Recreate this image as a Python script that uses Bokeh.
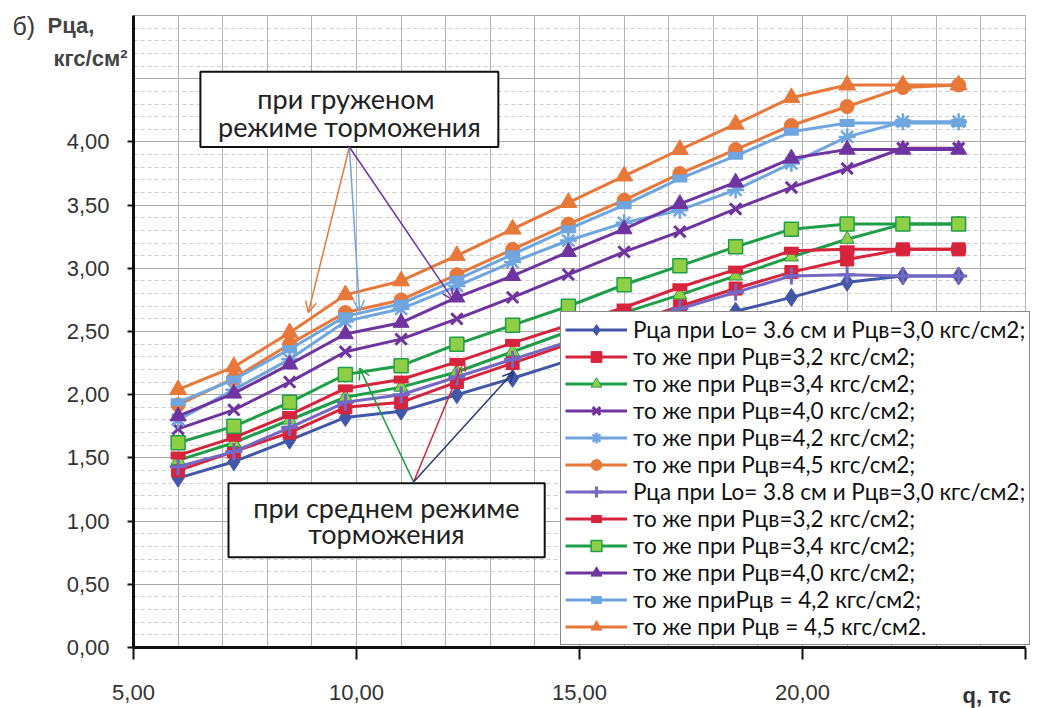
from bokeh.plotting import figure
from bokeh.models import (Range1d, FixedTicker, CustomJSTickFormatter, Grid, Legend, LegendItem,
                          BoxAnnotation, Label, Arrow, OpenHead)
from bokeh.core.properties import value
from bokeh.embed import file_html
from bokeh.resources import INLINE

# ---- data ----
q = [6.0, 7.25, 8.5, 9.75, 11.0, 12.25, 13.5, 14.75, 16.0, 17.25, 18.5, 19.75, 21.0, 22.25, 23.5]

lo36_30 = [1.34, 1.47, 1.64, 1.82, 1.87, 2.00, 2.13, 2.27, 2.40, 2.53, 2.66, 2.77, 2.89, 2.94, 2.94]
lo36_32 = [1.40, 1.55, 1.70, 1.90, 1.94, 2.10, 2.25, 2.40, 2.55, 2.70, 2.84, 2.97, 3.07, 3.15, 3.15]
lo36_34 = [1.48, 1.62, 1.80, 1.98, 2.06, 2.18, 2.34, 2.50, 2.65, 2.79, 2.94, 3.09, 3.23, 3.35, 3.35]
lo36_40 = [1.73, 1.88, 2.10, 2.34, 2.44, 2.60, 2.77, 2.95, 3.13, 3.29, 3.47, 3.64, 3.79, 3.95, 3.95]
lo36_42 = [1.80, 2.04, 2.28, 2.58, 2.68, 2.86, 3.05, 3.22, 3.36, 3.46, 3.62, 3.83, 4.04, 4.16, 4.16]
lo36_45 = [1.92, 2.13, 2.40, 2.65, 2.75, 2.95, 3.15, 3.35, 3.54, 3.75, 3.94, 4.13, 4.28, 4.43, 4.45]
lo38_30 = [1.43, 1.55, 1.74, 1.94, 2.00, 2.14, 2.28, 2.42, 2.55, 2.68, 2.81, 2.94, 2.95, 2.94, 2.94]
lo38_32 = [1.52, 1.66, 1.84, 2.05, 2.12, 2.26, 2.41, 2.55, 2.69, 2.85, 2.99, 3.14, 3.15, 3.15, 3.15]
lo38_34 = [1.62, 1.75, 1.94, 2.16, 2.23, 2.40, 2.55, 2.70, 2.87, 3.02, 3.17, 3.31, 3.35, 3.35, 3.35]
lo38_40 = [1.83, 2.01, 2.24, 2.48, 2.57, 2.77, 2.94, 3.13, 3.31, 3.51, 3.68, 3.87, 3.94, 3.94, 3.94]
lo38_42 = [1.94, 2.12, 2.36, 2.62, 2.72, 2.91, 3.11, 3.31, 3.50, 3.71, 3.89, 4.08, 4.15, 4.15, 4.15]
lo38_45 = [2.04, 2.22, 2.49, 2.79, 2.90, 3.10, 3.31, 3.52, 3.73, 3.94, 4.14, 4.35, 4.45, 4.45, 4.45]

labels = [
    "Рца при Lo= 3.6 см и Рцв=3,0 кгс/см2;",
    "то же при Рцв=3,2 кгс/см2;",
    "то же при Рцв=3,4 кгс/см2;",
    "то же при Рцв=4,0 кгс/см2;",
    "то же при Рцв=4,2 кгс/см2;",
    "то же при Рцв=4,5 кгс/см2;",
    "Рца при Lo= 3.8 см и Рцв=3,0 кгс/см2;",
    "то же при Рцв=3,2 кгс/см2;",
    "то же при Рцв=3,4 кгс/см2;",
    "то же при Рцв=4,0 кгс/см2;",
    "то же приРцв = 4,2 кгс/см2;",
    "то же при Рцв = 4,5 кгс/см2.",
]

y_ticks = [0.0, 0.5, 1.0, 1.5, 2.0, 2.5, 3.0, 3.5, 4.0]
x_ticks = [5, 10, 15, 20, 25]

# ---- styles ----
BLUE = "#4357a8"
RED = "#d8233c"
GREEN = "#1f9e48"
LIME = "#8fcf46"
PURPLE = "#7034a0"
LBLUE = "#6fa6e0"
ORANGE = "#e8773a"
LAV = "#7468c4"

series = [
    (lo36_30, BLUE, "diamond", BLUE, 18, 1),
    (lo36_32, RED, "square", RED, 13, 1),
    (lo36_34, GREEN, "triangle", LIME, 14, 1),
    (lo36_40, PURPLE, "x", PURPLE, 16, 3),
    (lo36_42, LBLUE, "asterisk", LBLUE, 17, 2.5),
    (lo36_45, ORANGE, "circle", ORANGE, 14, 1),
    (lo38_30, LAV, "cross", LAV, 17, 3),
    (lo38_32, RED, "dash", RED, 15, 8),
    (lo38_34, GREEN, "square", LIME, 14, 1.5),
    (lo38_40, PURPLE, "triangle", PURPLE, 16, 1),
    (lo38_42, LBLUE, "dash", LBLUE, 15, 8),
    (lo38_45, ORANGE, "triangle", ORANGE, 17, 1),
]

# The frame covers the whole canvas; axes sit at fixed data locations inside it,
# so that the axis titles and legend are not clipped.
# (q = 5 at x = 133 px, q = 25 at x = 1025 px; P = 0 at y = 647 px, P = 5 at y = 15 px)
p = figure(width=1057, height=708, output_backend="svg", toolbar_location=None,
           x_range=Range1d(2.018, 25.717), y_range=Range1d(-0.4826, 5.119),
           min_border=0, min_border_left=0, min_border_right=0,
           min_border_top=0, min_border_bottom=0)
p.outline_line_color = None
p.background_fill_color = "white"
p.border_fill_color = "white"
p.xgrid.visible = False
p.ygrid.visible = False

# grids (limited to the plotting area)
minor_y = [round(0.1 * i, 1) for i in range(1, 51)]
major_y = [0.5 * i for i in range(1, 11)]
grid_x = list(range(6, 26))
if "cross_bounds" in Grid.properties():
    p.add_layout(Grid(dimension=1, ticker=FixedTicker(ticks=minor_y), cross_bounds=(5, 25),
                      grid_line_color="#cfcfcf", grid_line_dash="4 3", grid_line_width=1))
    p.add_layout(Grid(dimension=1, ticker=FixedTicker(ticks=major_y), cross_bounds=(5, 25),
                      grid_line_color="#a9a9a9", grid_line_width=1))
    p.add_layout(Grid(dimension=0, ticker=FixedTicker(ticks=grid_x), cross_bounds=(0, 5),
                      grid_line_color="#b3b3b3", grid_line_width=1))
else:
    p.segment(x0=[5] * len(minor_y), y0=minor_y, x1=[25] * len(minor_y), y1=minor_y,
              line_color="#cfcfcf", line_dash="4 3", line_width=1, level="underlay")
    p.segment(x0=[5] * len(major_y), y0=major_y, x1=[25] * len(major_y), y1=major_y,
              line_color="#a9a9a9", line_width=1, level="underlay")
    p.segment(x0=grid_x, y0=[0] * len(grid_x), x1=grid_x, y1=[5] * len(grid_x),
              line_color="#b3b3b3", line_width=1, level="underlay")

# main axes, fixed inside the frame
p.xaxis.fixed_location = 0
p.yaxis.fixed_location = 5
p.xaxis.bounds = (5, 25)
p.yaxis.bounds = (0, 5)
p.yaxis.ticker = FixedTicker(ticks=y_ticks)
p.xaxis.ticker = FixedTicker(ticks=x_ticks)
p.yaxis.formatter = CustomJSTickFormatter(code="return tick.toFixed(2).replace('.', ',');")
p.xaxis.formatter = CustomJSTickFormatter(
    code="return tick >= 25 ? '' : tick.toFixed(2).replace('.', ',');")
for ax in (p.xaxis, p.yaxis):
    ax.axis_line_width = 3
    ax.axis_line_color = "#111111"
    ax.major_tick_line_color = "#111111"
    ax.major_tick_line_width = 2
    ax.minor_tick_line_color = None
    ax.major_tick_in = 0
    ax.major_label_text_font = "Liberation Sans"
    ax.major_label_text_font_size = "22px"
    ax.major_label_text_color = "#333333"
p.yaxis.major_tick_out = 6
p.yaxis.major_label_standoff = 18
p.xaxis.major_tick_out = 12
p.xaxis.major_label_standoff = 25

items = []
for (vals, color, marker, fill, size, mlw), lab in zip(series, labels):
    r_line = p.line(q, vals, line_color=color, line_width=3)
    r_mark = p.scatter(q, vals, marker=marker, size=size, fill_color=fill,
                       line_color=color, line_width=mlw)
    items.append(LegendItem(label=value(lab), renderers=[r_line, r_mark]))

# annotation boxes
p.add_layout(BoxAnnotation(left=6.5, right=13.18, bottom=3.96, top=4.556,
                           fill_color="white", fill_alpha=1.0, line_color="#111111",
                           line_alpha=1.0, line_width=2))
p.add_layout(BoxAnnotation(left=7.13, right=14.22, bottom=0.714, top=1.30,
                           fill_color="white", fill_alpha=1.0, line_color="#111111",
                           line_alpha=1.0, line_width=2))
box_font = dict(text_font="Lato", text_font_size="27px", text_color="#222222",
                text_align="center", text_baseline="middle")
p.add_layout(Label(x=9.84, y=4.34, text="при  груженом", **box_font))
p.add_layout(Label(x=9.84, y=4.12, text="режиме торможения", **box_font))
p.add_layout(Label(x=10.67, y=1.11, text="при среднем режиме", **box_font))
p.add_layout(Label(x=10.67, y=0.905, text="торможения", **box_font))

# arrows
arrows = [
    (9.84, 3.96, 8.92, 2.65, ORANGE),
    (9.84, 3.96, 10.07, 2.66, LBLUE),
    (9.84, 3.96, 12.17, 2.75, PURPLE),
    (11.28, 1.31, 10.07, 2.21, GREEN),
    (11.28, 1.31, 12.42, 2.28, RED),
    (11.28, 1.31, 13.52, 2.18, "#283a78"),
]
for xs, ys, xe, ye, c in arrows:
    p.add_layout(Arrow(x_start=xs, y_start=ys, x_end=xe, y_end=ye, line_color=c, line_width=1.5,
                       end=OpenHead(size=11, line_color=c, line_width=1.5)))

# legend (bottom-left corner at canvas x=560, y=645)
legend = Legend(items=items, location=(560, 63), label_text_font="Lato",
                label_text_font_size="22.5px", label_text_color="#111111",
                glyph_width=62, glyph_height=27, label_height=27, label_standoff=6,
                spacing=0, padding=4, margin=0, border_line_color="#111111",
                border_line_width=1.5, background_fill_color="white", background_fill_alpha=1.0)
p.add_layout(legend)

# axis titles
p.add_layout(Label(x=2.287, y=4.92, text="б)",
                   text_font="Liberation Sans", text_font_size="25px",
                   text_color="#3a3a3a", text_baseline="middle"))
p.add_layout(Label(x=3.072, y=4.92, text="Рца,",
                   text_font="Liberation Sans", text_font_size="22px", text_font_style="bold",
                   text_color="#444444", text_baseline="middle"))
p.add_layout(Label(x=4.865, y=4.66, text="кгс/см²",
                   text_font="Liberation Sans", text_font_size="22px", text_font_style="bold",
                   text_color="#444444", text_baseline="middle", text_align="right"))
p.add_layout(Label(x=24.13, y=-0.38, text="q, тс",
                   text_font="Liberation Sans", text_font_size="22px", text_font_style="bold",
                   text_color="#333333", text_baseline="middle", text_align="center"))

open("out.html", "w").write(file_html(p, INLINE))
